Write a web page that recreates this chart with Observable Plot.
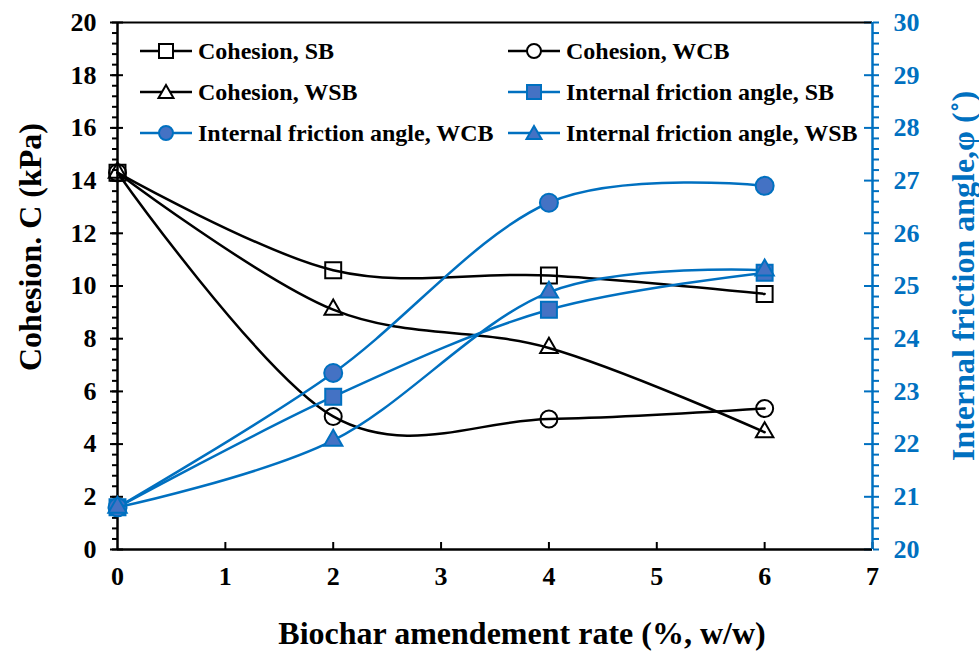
<!DOCTYPE html>
<html>
<head>
<meta charset="utf-8">
<script src="https://cdn.jsdelivr.net/npm/d3@7"></script>
<script src="https://cdn.jsdelivr.net/npm/@observablehq/plot@0.6"></script>
<style>
  body { margin: 0; background: #fff; }
  #chart { position: relative; width: 979px; height: 652px;
    font-family: "Liberation Serif", "Times New Roman", serif; font-weight: bold; }
  #chart svg text { font-family: "Liberation Serif", "Times New Roman", serif; font-weight: bold; }
  .item { position: absolute; display: flex; align-items: center; height: 26px;
    font-size: 24px; line-height: 26px; color: #000; white-space: nowrap; font-weight: bold;
    font-family: "Liberation Serif", "Times New Roman", serif; }
  .item svg { display: block; margin-right: 6px; }
</style>
</head>
<body>
<div id="chart"></div>
<script>
// Biochar amendment rate (%, w/w)
const rates = [0, 2, 4, 6];
// Cohesion C (kPa)
const cohesionSB  = [14.3, 10.6, 10.4, 9.7];
const cohesionWCB = [14.3, 5.05, 4.95, 5.35];
const cohesionWSB = [14.3, 9.1, 7.65, 4.45];
// Internal friction angle (degrees)
const angleSB  = [20.8, 22.9, 24.55, 25.25];
const angleWCB = [20.8, 23.35, 26.58, 26.9];
const angleWSB = [20.8, 22.07, 24.88, 25.3];

// Axis tick values
const xTicks = [0, 1, 2, 3, 4, 5, 6, 7];
const cohesionMajor = [0, 2, 4, 6, 8, 10, 12, 14, 16, 18, 20];
const cohesionMinor = d3.range(0, 51).map(i => +(i * 0.4).toFixed(1));

const legendItems = [
  {label: "Cohesion, SB", symbol: "square", color: "black", filled: false},
  {label: "Cohesion, WCB", symbol: "circle", color: "black", filled: false},
  {label: "Cohesion, WSB", symbol: "triangle", color: "black", filled: false},
  {label: "Internal friction angle, SB", symbol: "square", color: "blue", filled: true},
  {label: "Internal friction angle, WCB", symbol: "circle", color: "blue", filled: true},
  {label: "Internal friction angle, WSB", symbol: "triangle", color: "blue", filled: true}
];

const BLUE = "#0070C0";
const FILL = "#4472C4";
const SERIF = '"Liberation Serif", "Times New Roman", serif';

// The friction angle (20–30°) shares the cohesion scale (0–20 kPa)
const angleToLeft = a => (a - 20) * 2;
const leftToAngle = v => 20 + v / 2;

const rows = rates.map((rate, i) => ({
  rate,
  cSB: cohesionSB[i], cWCB: cohesionWCB[i], cWSB: cohesionWSB[i],
  aSB: angleToLeft(angleSB[i]), aWCB: angleToLeft(angleWCB[i]), aWSB: angleToLeft(angleWSB[i])
}));

const W = 979, H = 652, mL = 117, mR = 107, mT = 22, mB = 103;
const innerW = W - mL - mR, innerH = H - mT - mB;

const blackLine = {x: "rate", curve: "cardinal", stroke: "black", strokeWidth: 2.5};
const blueLine = {x: "rate", curve: "cardinal", stroke: BLUE, strokeWidth: 2.5};
const hollow = {x: "rate", stroke: "black", strokeWidth: 2, fill: "none"};
const solid = {x: "rate", stroke: BLUE, strokeWidth: 2, fill: FILL};
const tickText = {fontSize: 26, fontWeight: "bold", fontFamily: SERIF};
const titleText = {fontSize: 32, fontWeight: "bold", fontFamily: SERIF, textAnchor: "middle", lineAnchor: "middle"};

const chart = Plot.plot({
  width: W, height: H,
  marginLeft: mL, marginRight: mR, marginTop: mT, marginBottom: mB,
  style: {fontFamily: SERIF, fontWeight: "bold", background: "#fff", overflow: "visible"},
  x: {domain: [0, 7]},
  y: {domain: [0, 20]},
  marks: [
    // left axis (cohesion)
    Plot.axisY({ticks: cohesionMinor, tickSize: 5, tickFormat: () => "", label: null, strokeWidth: 2}),
    Plot.axisY({ticks: cohesionMajor, tickSize: 7, tickPadding: 14, ...tickText, fill: "black", tickFormat: d => String(d), label: null, strokeWidth: 2}),
    Plot.ruleY(cohesionMajor, {x1: 0, x2: 7, insetRight: innerW - 6, stroke: "black", strokeWidth: 2}),
    // right axis (friction angle)
    Plot.axisY({anchor: "right", ticks: cohesionMinor, tickSize: 6, tickFormat: () => "", label: null, stroke: BLUE, strokeWidth: 2}),
    Plot.axisY({anchor: "right", ticks: cohesionMajor, tickSize: 0, tickPadding: 21, ...tickText, fill: BLUE, tickFormat: v => String(leftToAngle(v)), label: null}),
    Plot.ruleY(cohesionMajor, {x1: 0, x2: 7, insetLeft: innerW - 8, stroke: BLUE, strokeWidth: 2}),
    // x axis
    Plot.axisX({ticks: xTicks, tickSize: 0, tickPadding: 17, ...tickText, fill: "black", tickFormat: d => String(d), label: null}),
    Plot.ruleX(xTicks.slice(1), {y1: 20, y2: 0, insetTop: innerH - 7, stroke: "black", strokeWidth: 2}),
    // frame
    Plot.ruleY([20], {stroke: "black", strokeWidth: 2}),
    Plot.ruleY([0], {stroke: "black", strokeWidth: 2.5}),
    Plot.ruleX([0], {stroke: "black", strokeWidth: 2.5}),
    Plot.ruleX([7], {stroke: BLUE, strokeWidth: 2.5}),
    // axis titles
    Plot.text(["Cohesion. C (kPa)"], {frameAnchor: "left", rotate: -90, dx: -87, dy: -39, ...titleText, fill: "black"}),
    Plot.text(["Internal friction angle,\u03c6 (\u02da)"], {frameAnchor: "right", rotate: -90, dx: 91, dy: -10, ...titleText, fill: BLUE}),
    Plot.text(["Biochar amendement rate (%, w/w)"], {frameAnchor: "bottom", dx: 27, dy: 84, ...titleText, fill: "black"}),
    // cohesion series
    Plot.line(rows, {...blackLine, y: "cSB"}),
    Plot.dot(rows, {...hollow, y: "cSB", symbol: "square", r: 9}),
    Plot.line(rows, {...blackLine, y: "cWCB"}),
    Plot.dot(rows, {...hollow, y: "cWCB", symbol: "circle", r: 8.5}),
    Plot.line(rows, {...blackLine, y: "cWSB"}),
    Plot.dot(rows, {...hollow, y: "cWSB", symbol: "triangle", r: 6.5}),
    // friction angle series
    Plot.line(rows, {...blueLine, y: "aSB"}),
    Plot.dot(rows, {...solid, y: "aSB", symbol: "square", r: 9}),
    Plot.line(rows, {...blueLine, y: "aWCB"}),
    Plot.dot(rows, {...solid, y: "aWCB", symbol: "circle", r: 9}),
    Plot.line(rows, {...blueLine, y: "aWSB"}),
    Plot.dot(rows, {...solid, y: "aWSB", symbol: "triangle", r: 6.8})
  ]
});

const root = document.getElementById("chart");
root.appendChild(chart);
d3.select(chart).selectAll("text").attr("font-family", SERIF).attr("font-weight", "bold");

// legend: two columns, three rows inside the plot area
const colX = [140, 508];
const rowY = [51, 92, 133];
function glyph(item) {
  const stroke = item.color === "blue" ? BLUE : "black";
  const fill = item.filled ? FILL : "#fff";
  const w = 52, h = 24, cx = 26, cy = 12;
  let m;
  if (item.symbol === "square") m = `<rect x="${cx - 7}" y="${cy - 7}" width="14" height="14" fill="${fill}" stroke="${stroke}" stroke-width="2"/>`;
  else if (item.symbol === "circle") m = `<circle cx="${cx}" cy="${cy}" r="7" fill="${fill}" stroke="${stroke}" stroke-width="2"/>`;
  else m = `<polygon points="${cx},${cy - 7} ${cx - 7.5},${cy + 6} ${cx + 7.5},${cy + 6}" fill="${fill}" stroke="${stroke}" stroke-width="2"/>`;
  return `<svg width="${w}" height="${h}"><line x1="0" x2="${w}" y1="${cy}" y2="${cy}" stroke="${stroke}" stroke-width="2.5"/>${m}</svg>`;
}
// entries fill rows first: (SB, WCB), (WSB, angle SB), (angle WCB, angle WSB)
legendItems.forEach((item, i) => {
  const div = document.createElement("div");
  div.className = "item";
  div.style.left = colX[i % 2] + "px";
  div.style.top = (rowY[Math.floor(i / 2)] - 13) + "px";
  div.innerHTML = glyph(item) + `<span>${item.label}</span>`;
  root.appendChild(div);
});
</script>
</body>
</html>
